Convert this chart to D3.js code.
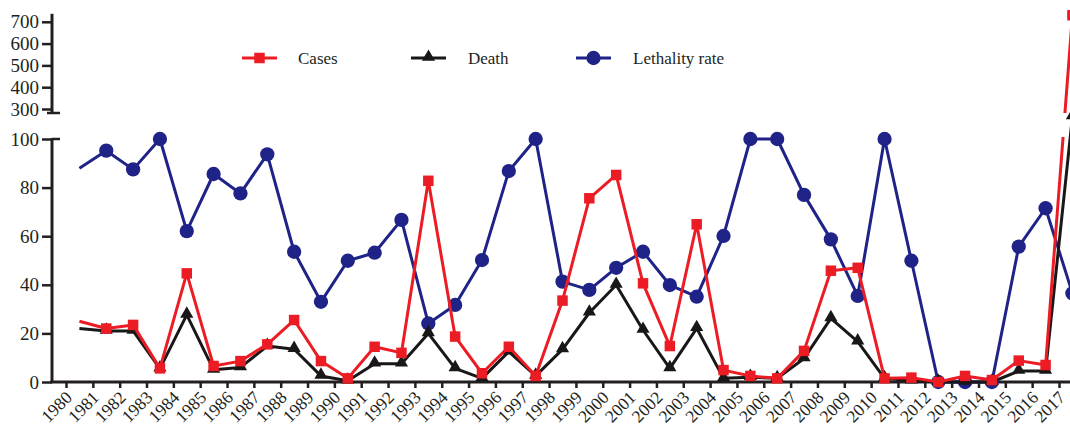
<!DOCTYPE html>
<html>
<head>
<meta charset="utf-8">
<script src="https://cdn.jsdelivr.net/npm/d3@7"></script>
<style>
  body { margin: 0; background: #fff; }
  svg { display: block; }
  svg text { font-family: "Liberation Serif", "Times New Roman", "DejaVu Serif", serif; }
</style>
</head>
<body>
<div id="root"></div>
<script>
// data (1980 - 2017)
const years = d3.range(1980, 2018);
const cases = [25, 22, 23.5, 5.6, 44.7, 6.6, 8.6, 15.5, 25.5, 8.6, 1.5, 14.5, 12, 82.8, 18.7, 3.6, 14.5, 2.5, 33.5, 75.6,
  85.2, 40.6, 14.8, 64.9, 4.9, 2.5, 1.5, 12.8, 45.8, 47, 1.5, 1.8, 0, 2.5, 0.8, 8.8, 7, 730];
const deaths = [22, 21, 21, 5.5, 27.6, 5, 6, 14.8, 13.5, 2.5, 0.5, 7.5, 7.5, 20, 5.6, 1.5, 12.5, 2.5, 13.4, 28.5,
  39.9, 21.4, 5.6, 22.1, 1.5, 2, 1.5, 9.7, 26.2, 16.6, 1.5, 0.5, 0, 0, 0, 4.5, 4.5, 250];
const lethality = [88, 95.2, 87.5, 100, 62.1, 85.6, 77.6, 93.7, 53.6, 33, 49.9, 53.2, 66.7, 24.1, 31.7, 50.2, 86.8, 100, 41.3, 37.9,
  47, 53.6, 39.9, 35.1, 60.1, 100, 100, 77, 58.7, 35.4, 100, 49.9, 0, 0, 0, 55.7, 71.5, 36.5];
const lowerTicks = [0, 20, 40, 60, 80, 100];
const upperTicks = [300, 400, 500, 600, 700];

const width = 1070;
const height = 426;
const ink = "#231f20";

const series = [
  { name: "Lethality rate", values: lethality, color: "#1f2387", symbol: d3.symbolCircle, size: 160 },
  { name: "Death", values: deaths, color: "#1a1718", symbol: d3.symbolTriangle, size: 75 },
  { name: "Cases", values: cases, color: "#ec1c24", symbol: d3.symbolSquare, size: 110 }
];

const svg = d3
  .select("#root")
  .append("svg")
  .attr("width", width)
  .attr("height", height);

// broken y axis: 0-100 below, 300-700 above
const yScale = d3
  .scaleLinear()
  .domain([0, 100, 300, 700])
  .range([382, 139, 109, 21.8]);
const xScale = d3
  .scaleLinear()
  .domain([1980, 2017])
  .range([66, 1059]);
const xPoint = (i) => xScale(years[i] + 0.5);
const axisX = 52;

// y axis pieces
const yLower = svg
  .append("g")
  .attr("transform", `translate(${axisX},0)`)
  .call(d3.axisLeft(yScale).tickValues(lowerTicks).tickSize(10).tickPadding(3));
const yUpper = svg
  .append("g")
  .attr("transform", `translate(${axisX},0)`)
  .call(d3.axisLeft(yScale).tickValues(upperTicks).tickSize(10).tickPadding(3));
[yLower, yUpper].forEach((g) => {
  g.attr("font-size", 19);
  g.select(".domain").remove();
  g.selectAll("line").attr("stroke", ink).attr("stroke-width", 2.5);
  g.selectAll("text").attr("fill", ink);
});
svg.append("line")
  .attr("x1", axisX).attr("x2", axisX)
  .attr("y1", yScale(0) + 1).attr("y2", yScale(100) - 1)
  .attr("stroke", ink).attr("stroke-width", 3);
svg.append("line")
  .attr("x1", axisX).attr("x2", axisX)
  .attr("y1", yScale(300) + 4).attr("y2", yScale(700) - 8)
  .attr("stroke", ink).attr("stroke-width", 3);
// break caps
svg.append("line")
  .attr("x1", axisX - 5).attr("x2", axisX + 8)
  .attr("y1", yScale(300) + 4).attr("y2", yScale(300) + 4)
  .attr("stroke", ink).attr("stroke-width", 2.5);
svg.append("line")
  .attr("x1", axisX).attr("x2", axisX + 8)
  .attr("y1", yScale(100)).attr("y2", yScale(100))
  .attr("stroke", ink).attr("stroke-width", 2.5);

// x axis
const xAxis = svg
  .append("g")
  .attr("transform", `translate(0,${yScale(0)})`)
  .call(d3.axisBottom(xScale).tickValues(years).tickFormat(d3.format("d")).tickSize(6));
xAxis.attr("font-size", 17.5);
xAxis.select(".domain").remove();
xAxis.selectAll("line").attr("stroke", ink).attr("stroke-width", 2.5);
xAxis.selectAll("text")
  .attr("fill", ink)
  .attr("text-anchor", "end")
  .attr("x", -2)
  .attr("y", 8)
  .attr("dy", "0.7em")
  .attr("transform", "rotate(-45, -2, 8)");
svg.append("line")
  .attr("x1", axisX - 1.5).attr("x2", width)
  .attr("y1", yScale(0)).attr("y2", yScale(0))
  .attr("stroke", ink).attr("stroke-width", 3);

// cases line is cut at the axis break
const clip = svg.append("clipPath").attr("id", "break-clip");
clip.append("rect").attr("x", 0).attr("y", 0).attr("width", width).attr("height", yScale(300) + 4);
clip.append("rect").attr("x", 0).attr("y", yScale(100) - 2).attr("width", width).attr("height", height);

const line = d3.line().x((d, i) => xPoint(i)).y((d) => yScale(d));

series.forEach((s) => {
  const g = svg.append("g");
  g.append("path")
    .datum(s.values)
    .attr("fill", "none")
    .attr("stroke", s.color)
    .attr("stroke-width", 3)
    .attr("stroke-linejoin", "round")
    .attr("clip-path", s.name === "Cases" ? "url(#break-clip)" : null)
    .attr("d", line);
  // first year is drawn without a marker
  g.selectAll("path.mark")
    .data(s.values.slice(1))
    .join("path")
    .attr("class", "mark")
    .attr("fill", s.color)
    .attr("d", d3.symbol().type(s.symbol).size(s.size))
    .attr("transform", (d, i) => `translate(${xPoint(i + 1)},${yScale(d) + (s.symbol === d3.symbolTriangle ? -1 : 0)})`);
});

// legend
const legendItems = [
  { s: series[2], x: 242, tx: 298 },
  { s: series[1], x: 411, tx: 468 },
  { s: series[0], x: 576, tx: 633 }
];
const legendY = 58;
legendItems.forEach((item) => {
  const g = svg.append("g");
  g.append("line")
    .attr("x1", item.x).attr("x2", item.x + 35)
    .attr("y1", legendY).attr("y2", legendY)
    .attr("stroke", item.s.color).attr("stroke-width", 3);
  g.append("path")
    .attr("fill", item.s.color)
    .attr("d", d3.symbol().type(item.s.symbol).size(item.s.size))
    .attr("transform", `translate(${item.x + 17.5},${legendY - (item.s.symbol === d3.symbolTriangle ? 1 : 0)})`);
  g.append("text")
    .attr("x", item.tx)
    .attr("y", legendY + 6)
    .attr("font-size", 17)
    .attr("fill", ink)
    .text(item.s.name);
});
</script>
</body>
</html>
